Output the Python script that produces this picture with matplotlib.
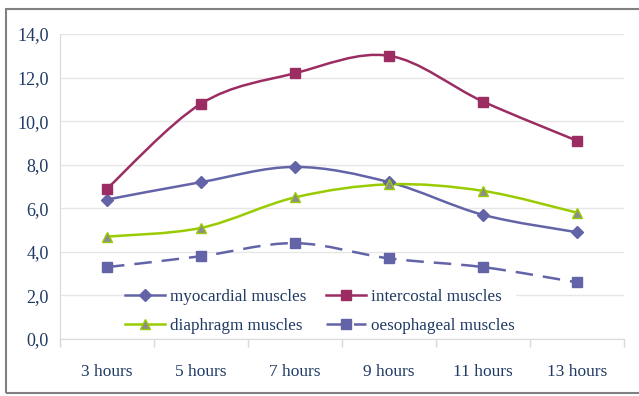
import numpy as np
import matplotlib
matplotlib.use('Agg')
import matplotlib.pyplot as plt
from matplotlib.path import Path
from matplotlib.patches import PathPatch, Rectangle
from matplotlib.lines import Line2D

# hours after death
hours = ['3 hours', '5 hours', '7 hours', '9 hours', '11 hours', '13 hours']

myocardial  = [6.4, 7.2, 7.9, 7.2, 5.7, 4.9]
intercostal = [6.9, 10.8, 12.2, 13.0, 10.9, 9.1]
diaphragm   = [4.7, 5.1, 6.5, 7.1, 6.8, 5.8]
oesophageal = [3.3, 3.8, 4.4, 3.7, 3.3, 2.6]

TXT = '#1f3a64'
plt.rcParams['font.family'] = ['Liberation Serif', 'DejaVu Serif']


def smooth_path(x, y):
    """Catmull-Rom style bezier through the points (like a 'smoothed line')."""
    pts = np.column_stack([x, y]).astype(float)
    n = len(pts)
    verts = [pts[0]]
    codes = [Path.MOVETO]
    for i in range(n - 1):
        p0 = pts[i - 1] if i > 0 else pts[i]
        p1 = pts[i]
        p2 = pts[i + 1]
        p3 = pts[i + 2] if i + 2 < n else pts[i + 1]
        c1 = p1 + (p2 - p0) / 6.0
        c2 = p2 - (p3 - p1) / 6.0
        verts += [c1, c2, p2]
        codes += [Path.CURVE4] * 3
    return Path(verts, codes)


fig = plt.figure(figsize=(6.39, 3.96), dpi=100)
ax = fig.add_axes([60 / 639, 1 - 339 / 396, 564 / 639, 305 / 396])

# outer frame
fig.patches.append(Rectangle((6 / 639, 3 / 396), 1.0, 384 / 396, transform=fig.transFigure,
                             fill=False, edgecolor='#808080', lw=1.5, clip_on=True))

x = np.arange(len(hours))
series = [
    ('myocardial muscles', myocardial, '#6264a7', 'D', '#6264a7', '#6264a7', '-', 6),
    ('intercostal muscles', intercostal, '#9b2d62', 's', '#9b2d62', '#9b2d62', '-', 7),
    ('diaphragm muscles', diaphragm, '#99cc00', '^', '#8c8c8c', '#99cc00', '-', 7.5),
    ('oesophageal muscles', oesophageal, '#6264a7', 's', '#6264a7', '#6264a7', (0, (7, 4)), 7),
]

handles = {}
for label, vals, lc, mk, mfc, mec, ls, ms in series:
    ax.add_patch(PathPatch(smooth_path(x, vals), fill=False, edgecolor=lc, lw=1.8,
                           linestyle=ls, zorder=3))
    ax.plot(x, vals, linestyle='none', marker=mk, markersize=ms, markerfacecolor=mfc,
            markeredgecolor=mec, markeredgewidth=1, zorder=4)
    handles[label] = Line2D([], [], color=lc, lw=1.8, linestyle=ls, marker=mk, markersize=ms,
                            markerfacecolor=mfc, markeredgecolor=mec)

ax.set_xlim(-0.5, len(hours) - 0.5)
ax.set_ylim(0, 14)
ax.set_yticks(np.arange(0, 15, 2))
ax.set_yticklabels([f'{v:.1f}'.replace('.', ',') for v in np.arange(0, 15, 2)],
                   fontsize=13, color=TXT)
ax.set_xticks(x)
ax.set_xticklabels(hours, fontsize=12.5, color=TXT)
ax.set_xticks(np.arange(-0.5, len(hours)), minor=True)
ax.tick_params(axis='x', which='major', length=0, pad=18)
ax.tick_params(axis='x', which='minor', length=6, color='#d9d9d9', width=1)
ax.tick_params(axis='y', length=0, pad=8)
ax.grid(axis='y', color='#e6e6e6', lw=1)
ax.set_axisbelow(True)
for s in ['top', 'right']:
    ax.spines[s].set_visible(False)
for s in ['left', 'bottom']:
    ax.spines[s].set_color('#d9d9d9')

# legend fills column-wise, so order it to read row by row
order = ['myocardial muscles', 'diaphragm muscles', 'intercostal muscles', 'oesophageal muscles']
leg = ax.legend([handles[k] for k in order], order, ncol=2, loc='lower left',
                bbox_to_anchor=(0.114, 0.015), frameon=True, fontsize=12.3,
                handlelength=2.35, columnspacing=1.15, handletextpad=0.28,
                labelspacing=0.75, borderpad=0.05, borderaxespad=0)
leg.get_frame().set_edgecolor('none')
leg.get_frame().set_facecolor('white')
leg.get_frame().set_alpha(1)
leg.get_frame().set_boxstyle('square', pad=0)
for t in leg.get_texts():
    t.set_color(TXT)

fig.savefig('out.png', dpi=100)
